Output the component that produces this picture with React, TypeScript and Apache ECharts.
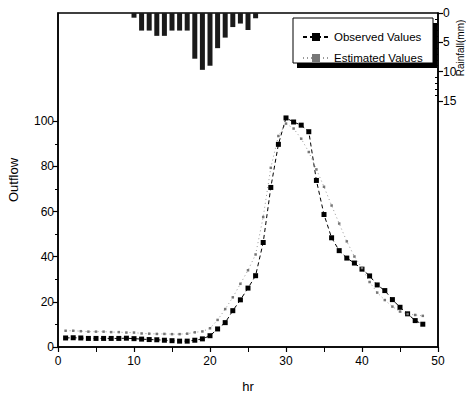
import React, { useEffect, useRef } from "react";
import * as echarts from "echarts";

const hours = [1,2,3,4,5,6,7,8,9,10,11,12,13,14,15,16,17,18,19,20,21,22,23,24,25,26,27,28,29,30,31,32,33,34,35,36,37,38,39,40,41,42,43,44,45,46,47,48];
const observed = [4.0,4.1,4.0,3.8,3.8,3.8,3.8,3.8,3.9,3.7,3.5,3.3,3.2,3.0,2.8,2.6,2.6,3.0,3.6,5.0,8.0,10.8,16.1,20.9,26.1,31.6,46.3,70.7,89.8,101.5,99.7,98.3,95.4,73.8,58.7,48.4,42.7,39.4,37.2,34.5,31.5,27.5,25.0,21.0,17.6,14.7,11.7,10.1];
const estimated = [7.2,7.2,7.0,6.8,6.8,6.8,6.6,6.6,6.4,6.4,6.0,5.9,5.8,5.8,5.7,5.7,5.9,6.5,6.9,8.3,12.0,16.8,22.0,28.0,34.0,41.0,57.6,79.4,93.5,99.0,96.8,92.3,86.4,78.7,71.0,62.7,54.7,46.8,40.1,35.0,28.8,24.1,20.8,17.9,15.7,14.6,14.2,13.8];
const rainHours = [10,11,12,13,14,15,16,17,18,19,20,21,22,23,24,25,26];
const rainfall = [0.8,3.0,3.0,3.9,3.9,3.0,3.0,3.0,7.8,9.7,9.0,6.0,4.2,2.4,1.8,2.9,0.9];
const outflowTicks = [0,20,40,60,80,100];
const outflowMinor = [10,30,50,70,90];
const rainTicks = [0,5,10,15];
const rainMinor = [1,2,3,4,6,7,8,9,11,12,13,14];

const FONT = "'Liberation Sans', Arial, sans-serif";

export default function App() {
  const ref = useRef<HTMLDivElement>(null);
  useEffect(() => {
    if (!ref.current) return;
    const chart = echarts.init(ref.current, undefined, { renderer: "svg" });
    const axisLine = { show: true, lineStyle: { color: "#000", width: 1.5 } };
    const labelStyle = { color: "#000", fontSize: 12, fontFamily: FONT };
    chart.setOption({
      animation: false,
      backgroundColor: "#fff",
      grid: { left: 58, right: 36, top: 13, bottom: 52, show: true, borderColor: "#000", borderWidth: 1.5, containLabel: false, outerBoundsMode: "none" },
      xAxis: [{
        type: "value", min: 0, max: 50, interval: 10,
        name: "hr", nameLocation: "middle", nameGap: 33,
        nameTextStyle: { color: "#000", fontSize: 13, fontFamily: FONT },
        axisLine,
        axisTick: { show: true, length: 5, lineStyle: { color: "#000", width: 1.2 } },
        minorTick: { show: true, splitNumber: 2, length: 5, lineStyle: { color: "#000", width: 1 } },
        axisLabel: { ...labelStyle, margin: 8 },
        splitLine: { show: false },
      }],
      yAxis: [
        {
          type: "value", min: 0, max: 148, position: "left",
          name: "Outflow", nameLocation: "middle", nameGap: 38, nameRotate: 90,
          nameTextStyle: { color: "#000", fontSize: 13, fontFamily: FONT },
          axisLine,
          axisTick: { show: true, length: 5, customValues: outflowTicks, lineStyle: { color: "#000", width: 1.2 } },
          axisLabel: { ...labelStyle, margin: 4, customValues: outflowTicks },
          splitLine: { show: false },
        },
        {
          type: "value", min: 0, max: 57, inverse: true, position: "right",
          axisLine,
          axisTick: { show: true, length: 5, customValues: rainTicks, lineStyle: { color: "#000", width: 1.2 } },
          axisLabel: { ...labelStyle, margin: 5, customValues: rainTicks },
          splitLine: { show: false },
        },
        {
          type: "value", min: 0, max: 148, position: "left",
          axisLine: { show: false },
          axisTick: { show: true, length: 3, customValues: outflowMinor, lineStyle: { color: "#000", width: 1 } },
          axisLabel: { show: false },
          splitLine: { show: false },
        },
        {
          type: "value", min: 0, max: 57, inverse: true, position: "right",
          axisLine: { show: false },
          axisTick: { show: true, inside: true, length: 3, customValues: rainMinor, lineStyle: { color: "#000", width: 1 } },
          axisLabel: { show: false },
          splitLine: { show: false },
        },
      ],
      legend: {
        left: 297, top: 26, orient: "vertical", itemGap: 9, itemWidth: 26, itemHeight: 10,
        textStyle: { color: "#000", fontSize: 11.5, fontFamily: FONT },
        data: ["Observed Values", "Estimated Values"],
      },
      graphic: [
        { type: "rect", z: 0, shape: { x: 297, y: 23, width: 140, height: 45 }, style: { fill: "#000" } },
        { type: "rect", z: 1, shape: { x: 293, y: 18, width: 140, height: 45 }, style: { fill: "#fff", stroke: "#000", lineWidth: 1 } },
        { type: "text", z: 5, x: 460, y: 48, rotation: Math.PI / 2, style: { text: "Rainfall(mm)", fill: "#000", fontSize: 10, fontFamily: FONT, align: "center", verticalAlign: "middle" } },
      ],
      series: [
        {
          name: "Rainfall", type: "bar", xAxisIndex: 0, yAxisIndex: 1, barWidth: 5,
          itemStyle: { color: "#1a1a1a" },
          data: rainHours.map((h, i) => [h, rainfall[i]]),
        },
        {
          name: "Observed Values", type: "line", yAxisIndex: 0,
          symbol: "rect", symbolSize: 5, showSymbol: true,
          itemStyle: { color: "#000" },
          lineStyle: { color: "#000", width: 1, type: [4, 3] },
          data: hours.map((h, i) => [h, observed[i]]),
        },
        {
          name: "Estimated Values", type: "line", yAxisIndex: 0,
          symbol: "rect", symbolSize: 2.5, showSymbol: true,
          itemStyle: { color: "#777" },
          lineStyle: { color: "#999", width: 1, type: [1, 3] },
          data: hours.map((h, i) => [h, estimated[i]]),
        },
      ],
    });
    return () => chart.dispose();
  }, []);
  return <div ref={ref} style={{ width: 474, height: 399, margin: -8 }} />;
}
